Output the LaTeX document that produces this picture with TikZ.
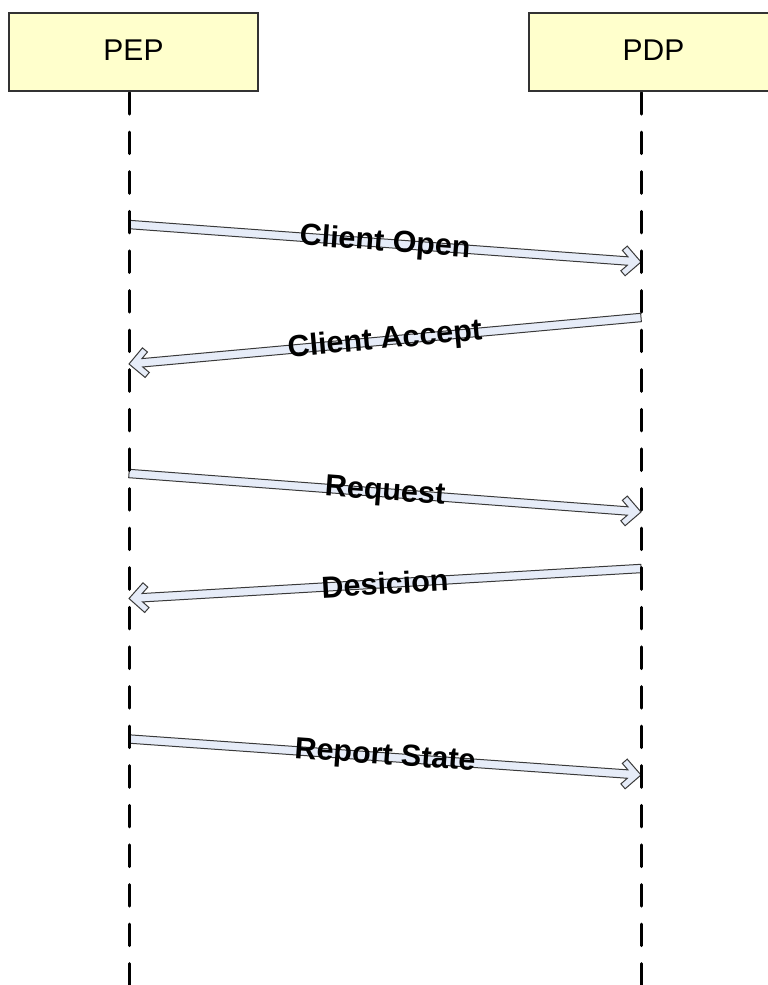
\documentclass[tikz,border=0pt]{standalone}
\usepackage{fontspec}
\setmainfont{Liberation Sans}
\usetikzlibrary{calc}

\definecolor{boxfill}{HTML}{FFFFCC}
\definecolor{boxline}{HTML}{333333}
\definecolor{shaftfill}{HTML}{E6ECF8}
\definecolor{shaftline}{HTML}{3A3A3A}

% Hollow block arrow with an open chevron head, from #1 to #2, labelled #3
\newcommand\msgarrow[3]{%
  \filldraw[msgbody] let \p1=($(#2)-(#1)$), \n1={atan2(\y1,\x1)} in
       ($(#1)+({\n1+90}:4.2)$)
    -- ($(#2)+({\n1}:-13.39)+({\n1+90}:4.2)$)
    -- ($(#2)+({\n1}:-19.45)+({\n1+90}:10.25)$)
    -- ($(#2)+({\n1}:-14.85)+({\n1+90}:14.85)$)
    -- (#2)
    -- ($(#2)+({\n1}:-14.85)+({\n1-90}:14.85)$)
    -- ($(#2)+({\n1}:-19.45)+({\n1-90}:10.25)$)
    -- ($(#2)+({\n1}:-13.39)+({\n1-90}:4.2)$)
    -- ($(#1)+({\n1-90}:4.2)$) -- cycle;
  \path (#1) -- node[msglabel] {#3} (#2);%
}

\begin{document}
\begin{tikzpicture}[x=1pt, y=1pt,
  actor/.style={draw=boxline, line width=1.2pt, fill=boxfill,
    minimum width=249pt, minimum height=78pt, inner sep=0pt,
    font=\fontsize{30}{36}\selectfont, text depth=4pt},
  lifeline/.style={line width=3pt, line cap=round,
    dash pattern=on 21.6pt off 18pt},
  msgbody/.style={draw=shaftline, line width=1pt, fill=shaftfill, line join=miter},
  msglabel/.style={sloped, inner sep=0pt,
    font=\fontsize{30.5}{36}\selectfont\bfseries}]

\clip (0,0) rectangle (768,-985);
\fill[white] (0,0) rectangle (768,-985);

% lifeline ends
\coordinate (pepTop) at (129,-92.5);
\coordinate (pepBot) at (129,-990);
\coordinate (pdpTop) at (641,-92.5);
\coordinate (pdpBot) at (641,-990);

% message anchors on the lifelines
\coordinate (m1a) at (129,-224.5);  \coordinate (m1b) at (641,-262);
\coordinate (m2a) at (641,-317.5);  \coordinate (m2b) at (129,-364);
\coordinate (m3a) at (129,-473.5);  \coordinate (m3b) at (641,-512);
\coordinate (m4a) at (641,-568.5);  \coordinate (m4b) at (129,-598.5);
\coordinate (m5a) at (129,-739);    \coordinate (m5b) at (641,-775);

% messages
\msgarrow{m1a}{m1b}{Client Open}
\msgarrow{m2a}{m2b}{Client Accept}
\msgarrow{m3a}{m3b}{Request}
\msgarrow{m4a}{m4b}{Desicion}
\msgarrow{m5a}{m5b}{Report State}

% lifelines drawn over the message ends
\draw[lifeline] (pepTop) -- (pepBot);
\draw[lifeline] (pdpTop) -- (pdpBot);

% participants, on top of the lifeline caps
\node[actor] (pep) at (133.5,-52) {PEP};
\node[actor] (pdp) at (653.5,-52) {PDP};
\end{tikzpicture}
\end{document}
